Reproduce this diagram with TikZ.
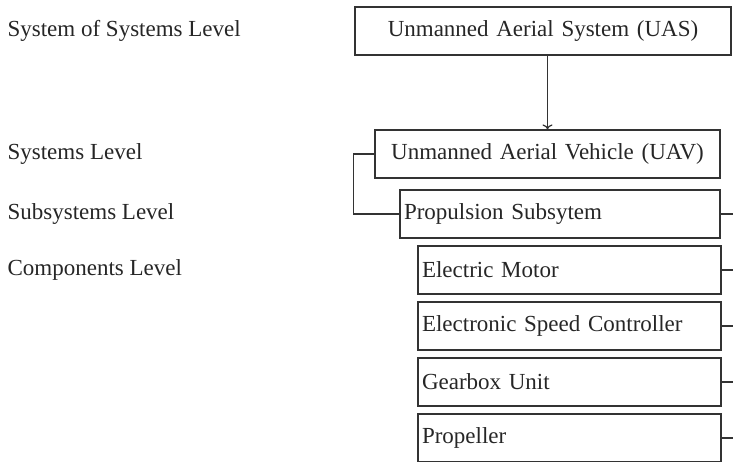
\documentclass[tikz,border=0pt]{standalone}
\usepackage{fontspec}
\setmainfont{Liberation Serif}
\usetikzlibrary{arrows.meta}
\tikzset{
  box/.style={draw=black!80, rectangle, minimum height=24pt, inner xsep=2pt,
    font=\fontsize{11.5}{13}\selectfont, text=black!85},
  comp/.style={box, text width=147.5pt, align=left},
  lvl/.style={anchor=west, inner sep=0pt, font=\fontsize{11.5}{13}\selectfont, text=black!85}
}
\begin{document}
\begin{tikzpicture}[semithick, draw=black!80, >={To[length=2.5pt,width=5pt]}]
  \useasboundingbox (0,0) rectangle (366.5pt,-230.5pt);
  \coordinate (edge) at (366.5pt,0);
  % hierarchy boxes
  \node[box, text width=184pt, align=center] (uas) at (271.5pt,-15.5pt) {Unmanned Aerial System (UAS)};
  \node[box, text width=168.5pt, align=center, below of=uas, node distance=61.5pt, xshift=2.25pt] (uav) {Unmanned Aerial Vehicle (UAV)};
  \node[box, text width=156pt, align=left, below of=uav, node distance=30pt, xshift=6.25pt] (prop) {Propulsion Subsytem};
  \node[comp, below of=prop, node distance=28pt, xshift=4.75pt] (motor) {Electric Motor};
  \node[comp, below of=motor, node distance=28pt] (esc) {Electronic Speed Controller};
  \node[comp, below of=esc, node distance=28pt] (gear) {Gearbox Unit};
  \node[comp, below of=gear, node distance=28pt] (prop2) {Propeller};
  % level labels
  \node[lvl] (sos) at (3.5pt,0 |- uas) {System of Systems Level};
  \node[lvl] (sys) at (3.5pt,0 |- uav) {Systems Level};
  \node[lvl] (sub) at (3.5pt,0 |- prop) {Subsystems Level};
  \node[lvl] (cmp) at (3.5pt,0 |- motor) {Components Level};
  % connectors
  \draw[->] (uav.north |- uas.south) to (uav.north);
  \draw (uav.west) -- ++(-10.5pt,0) |- (prop.west);
  \draw (prop.east) -- (prop.east -| edge);
  \draw (motor.east) -- (motor.east -| edge);
  \draw (esc.east) -- (esc.east -| edge);
  \draw (gear.east) -- (gear.east -| edge);
  \draw (prop2.east) -- (prop2.east -| edge);
\end{tikzpicture}
\end{document}
